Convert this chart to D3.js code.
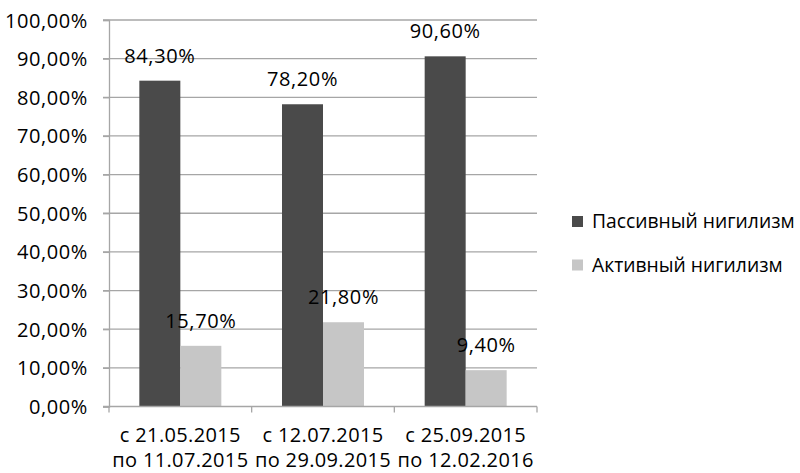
<!DOCTYPE html>
<html><head><meta charset="utf-8">
<script src="https://cdn.jsdelivr.net/npm/d3@7"></script>
<style>body{margin:0;background:#fff}svg{display:block}text{font-family:"Open Sans",sans-serif}</style>
</head><body><svg id="c" width="800" height="473"></svg>
<script>
const categories = [["с 21.05.2015","по 11.07.2015"],["с 12.07.2015","по 29.09.2015"],["с 25.09.2015","по 12.02.2016"]];
const seriesNames = ["Пассивный нигилизм","Активный нигилизм"];
const passive = [84.3, 78.2, 90.6];
const active = [15.7, 21.8, 9.4];
const yTicks = [0,10,20,30,40,50,60,70,80,90,100];
const colors = ["#4a4a4a","#c6c6c6"];

const FS = 20, NUM_LS = 0.6;
const svg = d3.select("#c");
const L = 109, R = 537, T = 20, B = 406.5;
const y = d3.scaleLinear().domain([0,100]).range([B,T]);
const x0 = d3.scaleBand().domain(d3.range(categories.length)).range([L,R]).paddingInner(0).paddingOuter(0);
const x1 = d3.scaleBand().domain([0,1]).range([0,x0.bandwidth()]).paddingOuter(0.74).paddingInner(0);
const fmt = v => v.toFixed(2).replace(".", ",") + "%";

// gridlines
svg.append("g").selectAll("line").data(yTicks.filter(d=>d>0)).join("line")
  .attr("x1", L-6).attr("x2", R).attr("y1", d=>y(d)).attr("y2", d=>y(d))
  .attr("stroke", "#a6a6a6").attr("stroke-width", 1.3);

// y axis
const yAxis = d3.axisLeft(y).tickValues(yTicks).tickFormat(fmt).tickSize(6).tickPadding(15);
const gy = svg.append("g").attr("transform", `translate(${L},0)`).call(yAxis);
gy.select(".domain").attr("stroke", "#a6a6a6").attr("stroke-width", 1.3);
gy.selectAll(".tick line").attr("stroke", "#a6a6a6").attr("stroke-width", 1.3);
gy.selectAll("text").attr("font-size", FS).attr("fill", "#000").attr("letter-spacing", NUM_LS)
  .attr("font-family", '"Open Sans",sans-serif').attr("dy", "0.35em");

// bars
const data = [passive, active];
const groups = svg.append("g").selectAll("g").data(categories.map((c,i)=>i)).join("g")
  .attr("transform", i => `translate(${x0(i)},0)`);
groups.selectAll("rect").data(i => [0,1].map(s => ({s, v: data[s][i]}))).join("rect")
  .attr("x", d => x1(d.s)).attr("width", x1.bandwidth())
  .attr("y", d => y(d.v)).attr("height", d => B - y(d.v))
  .attr("fill", d => colors[d.s]);
groups.selectAll("text.lbl").data(i => [0,1].map(s => ({s, v: data[s][i]}))).join("text")
  .attr("class","lbl")
  .attr("x", d => x1(d.s) + x1.bandwidth()/2).attr("y", d => y(d.v) - 18)
  .attr("text-anchor","middle").attr("font-size", FS).attr("letter-spacing", NUM_LS).attr("fill","#000")
  .text(d => fmt(d.v));

// x axis
const gx = svg.append("g").attr("transform", `translate(0,${B})`);
gx.append("line").attr("x1", L-6).attr("x2", R).attr("stroke", "#a6a6a6").attr("stroke-width", 1.3);
gx.selectAll("line.t").data(d3.range(categories.length+1)).join("line").attr("class","t")
  .attr("x1", i => L + i*x0.bandwidth()).attr("x2", i => L + i*x0.bandwidth())
  .attr("y1", 0).attr("y2", 6).attr("stroke", "#a6a6a6").attr("stroke-width", 1.3);
const xl = gx.selectAll("text").data(categories).join("text")
  .attr("text-anchor","middle").attr("font-size", FS).attr("letter-spacing", 0.35).attr("fill","#000")
  .attr("transform", (c,i) => `translate(${x0(i)+x0.bandwidth()/2},0)`);
xl.selectAll("tspan").data(c => c).join("tspan").attr("x", 0).attr("y", (d,j) => 35 + j*25).text(d => d);

// legend
const lg = svg.append("g").attr("transform", "translate(572,0)");
const li = lg.selectAll("g").data(seriesNames).join("g").attr("transform", (d,i) => `translate(0,${221.5 + i*43.5})`);
li.append("rect").attr("y", -5.5).attr("width", 11).attr("height", 11).attr("fill", (d,i) => colors[i]);
li.append("text").attr("x", 20).attr("y", 0).attr("dy","0.35em").attr("font-size", 19.3).attr("fill","#000").text(d => d);
</script></body></html>
